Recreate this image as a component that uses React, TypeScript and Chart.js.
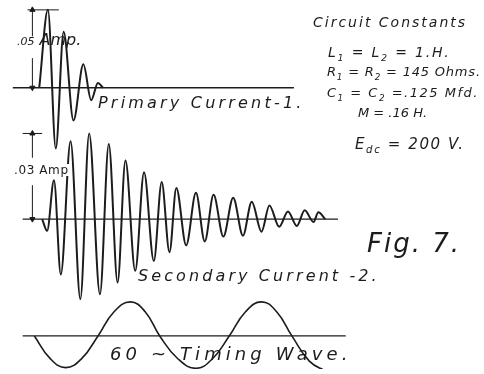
import React, { useEffect, useRef } from "react";
import { Chart, registerables } from "chart.js";

Chart.register(...registerables);

// Time axis in milliseconds (t = 0 when the primary circuit is closed)
const X_MIN = -4.35;
const X_MAX = 55.85;

// Primary current (A)
const primaryTimes = [0, 1.1, 2.1, 3.1, 4.35, 5.6, 6.6, 7.45, 8.1];
const primaryValues = [0, 0.05, -0.039, 0.036, -0.021, 0.015, -0.008, 0.003, 0];

// Secondary current (A)
const secondaryTimes = [
  0.37, 1.0, 1.87, 2.74, 3.98, 5.22, 6.34, 7.71, 8.83, 9.95, 10.95, 12.19, 13.31,
  14.55, 15.55, 16.54, 17.41, 18.66, 19.9, 21.02, 22.14, 23.38, 24.63, 25.87,
  26.99, 28.23, 29.23, 30.47, 31.59, 32.71, 33.71, 34.83, 35.45, 36.32,
];
const secondaryValues = [
  0, -0.0041, 0.0136, -0.0194, 0.0273, -0.028, 0.03, -0.0263, 0.0263, -0.0222,
  0.0205, -0.0181, 0.0164, -0.0147, 0.013, -0.0116, 0.0109, -0.0092, 0.0092,
  -0.0078, 0.0085, -0.0061, 0.0075, -0.0058, 0.0061, -0.0044, 0.0048, -0.0027,
  0.0027, -0.0024, 0.0031, -0.001, 0.0024, 0,
];

// 60 cycle timing wave (relative amplitude)
const timingTimes = [
  -0.62, 1.37, 3.36, 5.41, 7.46, 9.5, 11.57, 13.45, 15.3, 17.6, 19.9, 22.0, 24.13,
  26.2, 28.23, 30.15, 32.09, 34.3, 36.5,
];
const timingValues = [
  0, -0.66, -0.93, -0.66, 0, 0.71, 1, 0.71, 0, -0.67, -0.95, -0.67, 0, 0.71, 1, 0.71,
  0, -0.74, -1.05,
];

// Zero lines (start / end time, ms)
const primaryZeroLine = [-3.36, 32.34];
const secondaryZeroLine = [-2.11, 37.94];
const timingZeroLine = [-2.11, 38.93];

// Scale marks: ".05 Amp." and ".03 Amp"
const primaryScaleTime = -0.87;
const primaryScaleValue = 0.05;
const primaryScaleGap = [0.019, 0.033];
const primaryScaleTick = [-1.49, 2.49];
const secondaryScaleTime = -0.87;
const secondaryScaleValue = 0.03;
const secondaryScaleGap = [0.0119, 0.0215];
const secondaryScaleTick = [-2.11, 0.37];

const INK = "#1c1c1c";

const pts = (xs: number[], ys: (number | null)[]) => xs.map((x, i) => ({ x, y: ys[i] }));

function App() {
  const ref = useRef<HTMLCanvasElement | null>(null);

  useEffect(() => {
    if (!ref.current) return;
    const curve = (data: any[], axis: string, width: number) => ({
      data,
      yAxisID: axis,
      showLine: true,
      borderColor: INK,
      borderWidth: width,
      pointRadius: 0,
      tension: 0.4,
      cubicInterpolationMode: "monotone" as const,
      fill: false,
    });
    const smooth = (data: any[], axis: string, width: number) => ({
      data,
      yAxisID: axis,
      showLine: true,
      borderColor: INK,
      borderWidth: width,
      pointRadius: 0,
      tension: 0.45,
      fill: false,
    });
    const straight = (data: any[], axis: string, width: number) => ({
      data,
      yAxisID: axis,
      showLine: true,
      borderColor: INK,
      borderWidth: width,
      pointRadius: 0,
      tension: 0,
      spanGaps: false,
      fill: false,
    });
    const arrows = (t: number, v: number, axis: string) => ({
      data: [
        { x: t, y: 0 },
        { x: t, y: v },
      ],
      yAxisID: axis,
      showLine: false,
      pointStyle: "triangle" as const,
      rotation: [180, 0],
      pointRadius: 3,
      backgroundColor: INK,
      borderColor: INK,
      borderWidth: 1,
    });

    const chart = new Chart(ref.current, {
      type: "scatter",
      data: {
        datasets: [
          straight(pts(primaryZeroLine, [0, 0]), "yP", 1.3),
          straight(pts(secondaryZeroLine, [0, 0]), "yS", 1.3),
          straight(pts(timingZeroLine, [0, 0]), "yT", 1.3),
          curve(pts(primaryTimes, primaryValues), "yP", 2),
          curve(pts(secondaryTimes, secondaryValues), "yS", 2),
          smooth(pts(timingTimes, timingValues), "yT", 1.6),
          straight(
            [
              { x: primaryScaleTime, y: 0 },
              { x: primaryScaleTime, y: primaryScaleGap[0] },
              { x: primaryScaleTime, y: null },
              { x: primaryScaleTime, y: primaryScaleGap[1] },
              { x: primaryScaleTime, y: primaryScaleValue },
            ],
            "yP",
            1
          ),
          straight(pts(primaryScaleTick, [primaryScaleValue, primaryScaleValue]), "yP", 1),
          arrows(primaryScaleTime, primaryScaleValue, "yP"),
          straight(
            [
              { x: secondaryScaleTime, y: 0 },
              { x: secondaryScaleTime, y: secondaryScaleGap[0] },
              { x: secondaryScaleTime, y: null },
              { x: secondaryScaleTime, y: secondaryScaleGap[1] },
              { x: secondaryScaleTime, y: secondaryScaleValue },
            ],
            "yS",
            1
          ),
          straight(pts(secondaryScaleTick, [secondaryScaleValue, secondaryScaleValue]), "yS", 1),
          arrows(secondaryScaleTime, secondaryScaleValue, "yS"),
        ] as any,
      },
      options: {
        animation: false,
        responsive: false,
        devicePixelRatio: 1,
        layout: { padding: 0 },
        plugins: { legend: { display: false }, tooltip: { enabled: false }, title: { display: false } },
        events: [],
        scales: {
          x: { type: "linear", min: X_MIN, max: X_MAX, display: false },
          yP: { type: "linear", position: "left", min: -0.180625, max: 0.053125, display: false },
          yS: { type: "linear", position: "left", min: -0.0525, max: 0.075, display: false },
          yT: { type: "linear", position: "left", min: -0.971, max: 9.714, display: false },
        },
      },
    });
    return () => chart.destroy();
  }, []);

  const base: React.CSSProperties = {
    position: "absolute",
    fontFamily: "'DejaVu Sans', sans-serif",
    fontStyle: "italic",
    color: INK,
    whiteSpace: "nowrap",
    lineHeight: 1,
  };
  const sub: React.CSSProperties = { fontSize: "0.68em" };

  return (
    <div style={{ position: "fixed", left: 0, top: 0, width: 484, height: 374, background: "#fff", overflow: "hidden" }}>
      <canvas ref={ref} width={484} height={374} style={{ position: "absolute", left: 0, top: 0 }} />
      <div style={{ ...base, left: 17, top: 32, fontSize: 16 }}>
        <span style={{ fontSize: 11 }}>.05</span> Amp.
      </div>
      <div style={{ ...base, left: 98, top: 95, fontSize: 16, letterSpacing: 3.2 }}>Primary Current-1.</div>
      <div style={{ ...base, left: 14, top: 164, fontSize: 12, fontStyle: "normal", letterSpacing: 0.6, background: "#fff" }}>.03 Amp</div>
      <div style={{ ...base, left: 138, top: 268, fontSize: 16, letterSpacing: 3.1 }}>Secondary Current -2.</div>
      <div style={{ ...base, left: 110, top: 345, fontSize: 18, letterSpacing: 4.1 }}>60 ~ Timing Wave.</div>
      <div style={{ ...base, left: 367, top: 230, fontSize: 26, letterSpacing: 2 }}>Fig. 7.</div>
      <div style={{ ...base, left: 313, top: 15, fontSize: 14, letterSpacing: 2 }}>Circuit Constants</div>
      <div style={{ ...base, left: 328, top: 45, fontSize: 14, letterSpacing: 1.8 }}>
        L<sub style={sub}>1</sub> = L<sub style={sub}>2</sub> = 1.H.
      </div>
      <div style={{ ...base, left: 327, top: 65, fontSize: 13, letterSpacing: 0.8 }}>
        R<sub style={sub}>1</sub> = R<sub style={sub}>2</sub> = 145 Ohms.
      </div>
      <div style={{ ...base, left: 327, top: 86, fontSize: 13, letterSpacing: 1.5 }}>
        C<sub style={sub}>1</sub> = C<sub style={sub}>2</sub> =.125 Mfd.
      </div>
      <div style={{ ...base, left: 358, top: 106, fontSize: 13 }}>M = .16 H.</div>
      <div style={{ ...base, left: 355, top: 137, fontSize: 15, letterSpacing: 1.6 }}>
        E<sub style={sub}>dc</sub> = 200 V.
      </div>
    </div>
  );
}

export default App;
